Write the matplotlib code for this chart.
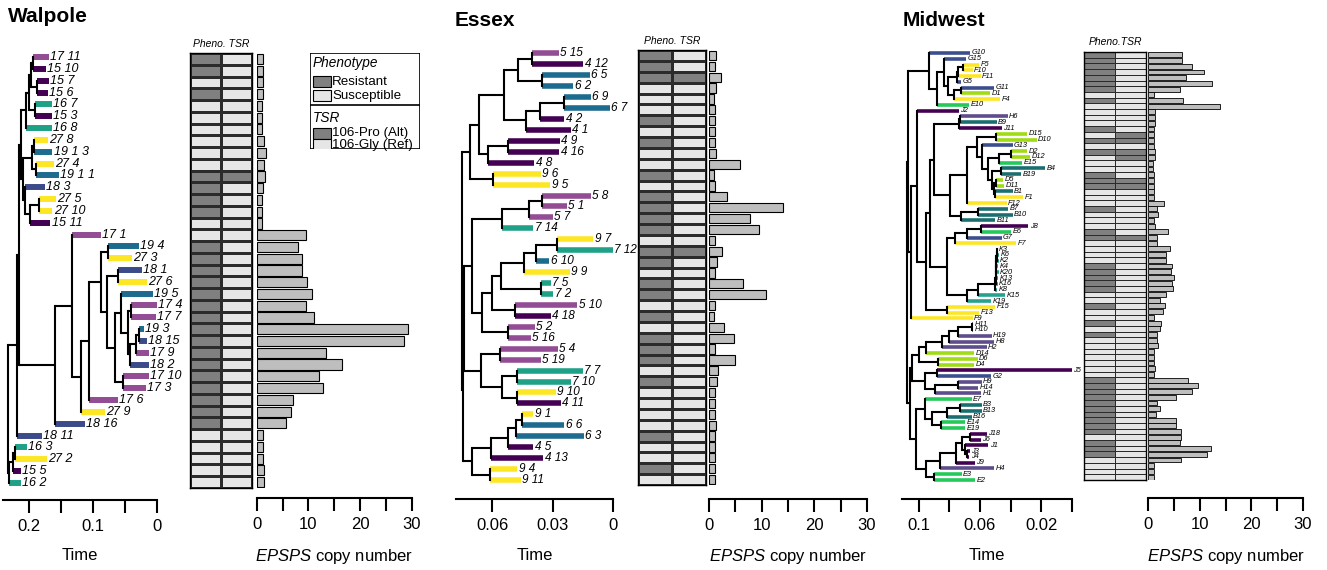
import matplotlib
matplotlib.use("Agg")
import matplotlib.pyplot as plt
from matplotlib.colors import ListedColormap
from matplotlib.patches import Rectangle
import numpy as np

plt.rcParams['font.family'] = ['Liberation Sans', 'DejaVu Sans']
plt.rcParams['mathtext.fontset'] = 'custom'
plt.rcParams['mathtext.it'] = 'Liberation Sans:italic'
plt.rcParams['mathtext.rm'] = 'Liberation Sans'

W, H = 1327, 570

# trees in newick form: the number after ':' is the node (or tip) time on the Time axis
walpole_tree = (
    "((((((((17_11:0.169,15_10:0.173):0.1938,(15_7:0.169,15_6:0.170):0.1875):0.1969,"
    "(16_7:0.164,15_3:0.164):0.1906):0.2,16_8:0.164):0.2047,"
    "(((27_8:0.170,19_1_3:0.163):0.1922,(27_4:0.161,19_1_1:0.153):0.1891):0.1953,"
    "(18_3:0.175,((27_5:0.158,27_10:0.163):0.1844,15_11:0.166):0.1984):0.2063):0.2094):0.2125,"
    "((17_1:0.0875,((((19_4:0.0281,27_3:0.0391):0.0766,"
    "((18_1:0.0234,27_6:0.0156):0.0609,"
    "((19_5:0.0063,((17_4:0.0,17_7:0.002):0.0406,"
    "(((19_3:0.0203,18_15:0.0156):0.0281,17_9:0.0125):0.0328,18_2:0.0125):0.0422):0.0453):0.0563,"
    "(17_10:0.0125,17_3:0.0172):0.0531):0.0656):0.0781):0.0875,"
    "17_6:0.0609):0.1063,27_9:0.0813):0.1188):0.1328,18_16:0.1125):0.1594):0.2148,"
    "18_11:0.1797):0.2188,"
    "(((16_3:0.2031,27_2:0.1719):0.2219,15_5:0.2125):0.225,16_2:0.2125):0.2313):0.2328"
)
walpole_pheno = [1, 1, 0, 1, 0, 0, 0, 0, 0, 0, 1, 1, 1, 1, 0, 0, 1, 1, 1, 1,
                 1, 1, 1, 1, 1, 1, 1, 1, 1, 1, 1, 1, 0, 0, 0, 0, 0]
walpole_tsr = [0] * 10 + [1] + [0] * 26
walpole_copy = [1.2, 1.2, 1.2, 1.2, 1.1, 1.0, 1.0, 1.4, 1.8, 1.4, 1.6, 1.3, 1.0,
                1.1, 1.1, 9.5, 7.9, 8.8, 8.7, 9.7, 10.7, 9.5, 11.0, 29.3, 28.6,
                13.5, 16.6, 12.1, 12.8, 7.1, 6.6, 5.7, 1.3, 1.3, 1.2, 1.4, 1.4]
walpole_cols = {'15': '#440154', '16': '#1FA187', '17': '#924D94',
                '18': '#3B4B8A', '19': '#1D6B8F', '27': '#FDE725'}

essex_upper = (
    "(((((5_15:0.0268,4_12:0.0147):0.0403,(6_5:0.0114,6_2:0.0197):0.0354):0.0473,"
    "(((6_9:0.0109,6_7:0.0015):0.0242,4_2:0.0242):0.0362,4_1:0.0210):0.0432):0.0541,"
    "((4_9:0.0263,4_16:0.0266):0.0519,4_8:0.0390):0.0619):0.0663,"
    "(9_6:0.0357,9_5:0.0312):0.0594):0.0709"
)
essex_middle = (
    "(((((5_8:0.0111,5_1:0.0230):0.0351,5_7:0.0299):0.0417,7_14:0.0395):0.0552,"
    "((((((9_7:0.0098,7_12:0.0002):0.0276,6_10:0.0316):0.0382,9_9:0.0213):0.0440,"
    "(7_5:0.0308,7_2:0.0296):0.0357):0.0556,"
    "(5_10:0.0177,4_18:0.0308):0.0486):0.0599,"
    "(5_2:0.0387,5_16:0.0407):0.0519):0.0651):0.0698,"
    "((5_4:0.0274,5_19:0.0357):0.0560,"
    "((7_7:0.0150,7_10:0.0208):0.0478,(9_10:0.0284,4_11:0.0258):0.0478):0.0552):0.0655):0.0738"
)
essex_lower = (
    "(((((9_1:0.0395,6_6:0.0242):0.0453,6_3:0.0144):0.0481,4_5:0.0395):0.0519,4_13:0.0346):0.0605,"
    "(9_4:0.0475,9_11:0.0456):0.0610):0.0698"
)
essex_tree = "(" + essex_upper + ",(" + essex_middle + "," + essex_lower + "):0.0746):0.0750"
essex_pheno = [1, 1, 1, 0, 0, 0, 1, 0, 1, 0, 0, 1, 0, 1, 1, 1, 1, 0, 1, 1,
               0, 1, 1, 0, 1, 0, 1, 1, 1, 0, 1, 0, 0, 0, 0, 1, 0, 0, 1, 0]
essex_tsr = [0, 0, 1] + [0] * 15 + [1] + [0] * 21
essex_copy = [1.3, 1.1, 2.2, 1.4, 1.0, 1.1, 1.1, 1.1, 1.1, 1.4, 5.8, 1.0, 1.1,
              3.5, 14.0, 7.7, 9.4, 1.1, 2.5, 1.5, 1.1, 6.5, 10.8, 1.1, 1.0, 2.9,
              4.8, 1.1, 5.0, 1.7, 1.6, 1.2, 1.1, 1.1, 1.4, 1.1, 1.2, 1.1, 1.1, 1.1]
essex_cols = {'4': '#440154', '5': '#924D94', '6': '#1D6B8F',
              '7': '#1FA187', '9': '#FDE725'}

midwest_gf = (
    "(G10:0.0665,((G15:0.0691,((((F5:0.0606,F10:0.0647):0.0708,F11:0.0595):0.0741,G5:0.0724):0.0752,"
    "((G11:0.0506,D1:0.0534):0.0723,F4:0.0469):0.0767):0.0806):0.0834,E10:0.0671):0.0883):0.0936"
)
midwest_hbd = (
    "(((H6:0.0419,B9:0.0490):0.0730,J11:0.0458):0.0737,"
    "((((D15:0.0290,D10:0.0229):0.0495,(G13:0.0386,(((D2:0.0290,D12:0.0273):0.0397,E15:0.0323):0.0473,"
    "((B4:0.0175,B19:0.0331):0.0462,((D5:0.0447,D11:0.0440):0.0495,(B1:0.0386,F1:0.0316):0.0499):0.0508)"
    ":0.0523):0.0549):0.0588):0.0621,F12:0.0425):0.0687,"
    "((B7:0.0414,B10:0.0386):0.0610,B11:0.0501):0.0723):0.0796):0.0898"
)
midwest_k = (
    "(((((((((K3:0.0486,K6:0.0475):0.0488,K2:0.0478):0.0490,K4:0.0480):0.0492,K20:0.0478):0.0494,"
    "K13:0.0482):0.0496,K16:0.0484):0.0498,K8:0.0486):0.0500,K15:0.0436):0.0615,K19:0.0527):0.0687"
)
midwest_jef = (
    "((J2:0.0737,((" + midwest_hbd + ",((((J8:0.0283,E6:0.0397):0.0595,G7:0.0458):0.0687,F7:0.0364):0.0763,"
    + midwest_k + "):0.0813):0.0930,(F15:0.0501,F13:0.0604):0.0813):0.0952):0.1009,F9:0.0647):0.1052"
)
midwest_hd = (
    "(((((((H11:0.0643,H10:0.0643):0.0654,H19:0.0523):0.0745,H8:0.0506):0.0802,H2:0.0556):0.0850,"
    "D14:0.0636):0.0952,(D6:0.0615,D4:0.0636):0.0872):0.1002,"
    "((J5:0.0,G2:0.0527):0.0883,((H9:0.0588,H14:0.0610):0.0741,H1:0.0593):0.0894):0.0959):0.1046"
)
midwest_ebj = (
    "((E7:0.0654,(((B3:0.0588,B13:0.0588):0.0730,B16:0.0654):0.0813,"
    "(E14:0.0697,E19:0.0697):0.0856):0.0915):0.0959,"
    "(((((J18:0.0556,J6:0.0595):0.0665,(J1:0.0545,(J3:0.0665,J4:0.0669):0.0682):0.0698):0.0719,"
    "J9:0.0632):0.0756,H4:0.0506):0.0861,(E3:0.0719,E2:0.0632):0.0898):0.0952):0.1018"
)
midwest_tree = ("((" + midwest_gf + "," + midwest_jef + "):0.1068,("
                + midwest_hd + "," + midwest_ebj + "):0.1057):0.1079")
midwest_pheno = [1, 1, 1, 1, 1, 1, 1, 0, 1, 0, 0, 0, 0, 1, 0, 1, 0, 1, 0, 0,
                 0, 1, 1, 1, 0, 0, 0, 1, 0, 0, 0, 1, 1, 0, 0, 0, 0, 1, 1, 1,
                 1, 1, 0, 0, 1, 0, 0, 1, 0, 1, 0, 0, 0, 0, 0, 0, 0, 1, 1, 1,
                 1, 1, 1, 1, 1, 1, 1, 0, 1, 1, 1, 0, 0, 0, 0]
midwest_tsr = [0] * 75
for i in [14, 15, 17, 18, 22, 23, 32]:
    midwest_tsr[i] = 1
midwest_copy = [6.6, 6.6, 8.5, 10.8, 7.4, 12.3, 6.1, 1.2, 6.8, 14.0,
                1.4, 1.4, 1.4, 1.2, 1.2, 1.2, 1.2, 1.4, 1.3, 1.0,
                1.0, 1.2, 1.2, 1.2, 1.1, 1.1, 3.0, 1.8, 2.0, 1.2,
                1.4, 3.8, 1.8, 1.8, 4.2, 3.5, 3.5, 4.7, 4.5, 5.0,
                4.7, 4.9, 3.5, 2.3, 3.2, 2.9, 1.1, 2.5, 2.3, 1.7,
                1.7, 1.9, 1.1, 1.1, 1.1, 1.3, 1.2, 7.7, 9.7, 8.6,
                5.4, 1.7, 2.3, 1.6, 5.4, 5.4, 6.4, 6.4, 6.1, 12.2,
                11.4, 6.4, 1.1, 1.1, 1.1]
midwest_cols = {'B': '#1B6E70', 'D': '#A0DC14', 'E': '#24C95A', 'F': '#FDE725',
                'G': '#3B4F8F', 'H': '#5E4C8C', 'J': '#440154', 'K': '#25A18E'}

HEAT = ListedColormap(['#E6E6E6', '#808080'])
BARCOL = '#BEBEBE'


def parse_newick(s):
    s = s.replace(' ', '')
    pos = 0

    def node():
        nonlocal pos
        kids, name = [], ''
        if s[pos] == '(':
            pos += 1
            kids.append(node())
            while s[pos] == ',':
                pos += 1
                kids.append(node())
            pos += 1
        else:
            st = pos
            while s[pos] not in ':,)':
                pos += 1
            name = s[st:pos]
        t = 0.0
        if pos < len(s) and s[pos] == ':':
            pos += 1
            st = pos
            while pos < len(s) and s[pos] not in ',)':
                pos += 1
            t = float(s[st:pos])
        return {'name': name, 'time': t, 'kids': kids}
    return node()


def px_axes(fig, l, t, r, b):
    return fig.add_axes([l / W, 1 - b / H, (r - l) / W, (b - t) / H])


def draw_tree(ax, newick, colfun, bar_lw, lab_fs, line_lw=1.5):
    root = parse_newick(newick)
    count = [0]

    def set_y(nd):
        if not nd['kids']:
            nd['y'] = count[0]
            count[0] += 1
        else:
            for k in nd['kids']:
                set_y(k)
            nd['y'] = np.mean([k['y'] for k in nd['kids']])
    set_y(root)

    def draw(nd):
        ys = [k['y'] for k in nd['kids']]
        ax.plot([nd['time'], nd['time']], [min(ys), max(ys)], color='black',
                lw=line_lw, zorder=4, solid_capstyle='projecting')
        for k in nd['kids']:
            if k['kids']:
                ax.plot([nd['time'], k['time']], [k['y'], k['y']], color='black',
                        lw=line_lw, zorder=3, solid_capstyle='butt')
                draw(k)
            else:
                ax.plot([nd['time'], k['time']], [k['y'], k['y']], color=colfun(k['name']),
                        lw=bar_lw, zorder=2, solid_capstyle='butt')
                ax.annotate(k['name'].replace('_', ' '), (k['time'], k['y']),
                            xytext=(1, 0), textcoords='offset points', ha='left',
                            va='center', fontsize=lab_fs, style='italic',
                            annotation_clip=False)
    draw(root)
    return count[0]


def style_axis(ax, outward):
    for sp in ['top', 'left', 'right']:
        ax.spines[sp].set_visible(False)
    ax.spines['bottom'].set_position(('outward', outward * 0.72))
    ax.spines['bottom'].set_linewidth(1.5)
    ax.tick_params(axis='x', length=9, width=1.5, labelsize=12, pad=5)
    ax.set_yticks([])
    ax.patch.set_alpha(0)


def panel(fig, title, title_xy, newick, colfun, xmax, ticks, ticklabels,
          tree_box, heat_box, bar_box, tree_out, bar_out, pheno, tsr, copy,
          bar_lw, lab_fs, head_txt, head_y, heat_lw):
    ax = px_axes(fig, *tree_box)
    n = draw_tree(ax, newick, colfun, bar_lw, lab_fs)
    ax.set_xlim(xmax, 0)
    ax.set_ylim(n - 0.5, -0.5)
    style_axis(ax, tree_out)
    ax.set_xticks(ticks)
    ax.set_xticklabels(ticklabels)
    fig.text((tree_box[0] + tree_box[2]) / 2 / W, 1 - 556 / H, 'Time',
             ha='center', va='center', fontsize=12)

    hx = px_axes(fig, *heat_box)
    vals = np.column_stack([pheno, tsr])
    hx.pcolormesh(np.arange(3), np.arange(n + 1) - 0.5, vals, cmap=HEAT,
                  vmin=0, vmax=1, edgecolors='#2b2b2b', linewidth=heat_lw)
    hx.set_xlim(0, 2)
    hx.set_ylim(n - 0.5, -0.5)
    hx.set_xticks([])
    hx.set_yticks([])
    for sp in hx.spines.values():
        sp.set_linewidth(1.0)
    fig.text((heat_box[0] + heat_box[2]) / 2 / W, 1 - head_y / H, head_txt,
             ha='center', va='center', fontsize=7.5, style='italic')

    bx = px_axes(fig, *bar_box)
    bx.barh(np.arange(n), copy, height=0.86, color=BARCOL, edgecolor='black',
            linewidth=0.8 if n < 60 else 0.6)
    bx.set_xlim(0, 30)
    bx.set_ylim(n - 0.5, -0.5)
    style_axis(bx, bar_out)
    bx.set_xticks([0, 5, 10, 15, 20, 25, 30])
    bx.set_xticklabels(['0', '', '10', '', '20', '', '30'])
    fig.text((bar_box[0] + bar_box[2]) / 2 / W, 1 - 556 / H,
             r'$\mathit{EPSPS}$ copy number', ha='center', va='center', fontsize=12)

    fig.text(title_xy[0] / W, 1 - title_xy[1] / H, title, ha='left', va='center',
             fontsize=15, fontweight='bold')


fig = plt.figure(figsize=(W / 100, H / 100), dpi=100)

panel(fig, 'Walpole', (8, 17), walpole_tree, lambda s: walpole_cols[s.split('_')[0]],
      0.24, [0.2, 0.15, 0.1, 0.05, 0], ['0.2', '', '0.1', '', '0'],
      (3, 51.1, 157, 488.9), (190, 53, 252, 488), (256.7, 53, 411.7, 488),
      11, 10, walpole_pheno, walpole_tsr, walpole_copy, 4.3, 9, 'Pheno. TSR', 44, 1.0)

panel(fig, 'Essex', (455, 21), essex_tree, lambda s: essex_cols[s.split('_')[0]],
      0.0779, [0.06, 0.03, 0], ['0.06', '0.03', '0'],
      (456, 47.8, 613, 485.5), (638, 50, 706, 485), (709, 50, 867, 485),
      13.5, 14, essex_pheno, essex_tsr, essex_copy, 4.0, 8.5, 'Pheno. TSR', 41, 0.9)

panel(fig, 'Midwest', (903, 20), midwest_tree, lambda s: midwest_cols[s[0]],
      0.111, [0.1, 0.08, 0.06, 0.04, 0.02, 0], ['0.1', '', '0.06', '', '0.02', ''],
      (902, 50.1, 1071.7, 482.9), (1084, 52, 1146, 480), (1148, 52, 1303, 480),
      16, 18, midwest_pheno, midwest_tsr, midwest_copy, 2.6, 5.3, 'Pheno.TSR', 42, 0.5)

# legend box (Walpole panel)
lg = px_axes(fig, 310, 53, 420, 149)
lg.set_xlim(310, 420)
lg.set_ylim(149, 53)
lg.axis('off')
lg.add_patch(Rectangle((310, 53), 110, 96, fill=False, lw=1.2, ec='black'))
lg.plot([310, 420], [105, 105], color='black', lw=1.2)
entries = [('Phenotype', None, 62.7), ('Resistant', 1, 81.7), ('Susceptible', 0, 96),
           ('TSR', None, 118.3), ('106-Pro (Alt)', 1, 133.3), ('106-Gly (Ref)', 0, 145)]
for txt, v, y in entries:
    if v is None:
        lg.text(313, y, txt, ha='left', va='center', fontsize=9.8, style='italic')
    else:
        lg.add_patch(Rectangle((313, y - 5.5), 18, 11, fc=HEAT(v), ec='black', lw=0.8))
        lg.text(332, y, txt, ha='left', va='center', fontsize=9.6)

fig.savefig('out.png', dpi=100)
